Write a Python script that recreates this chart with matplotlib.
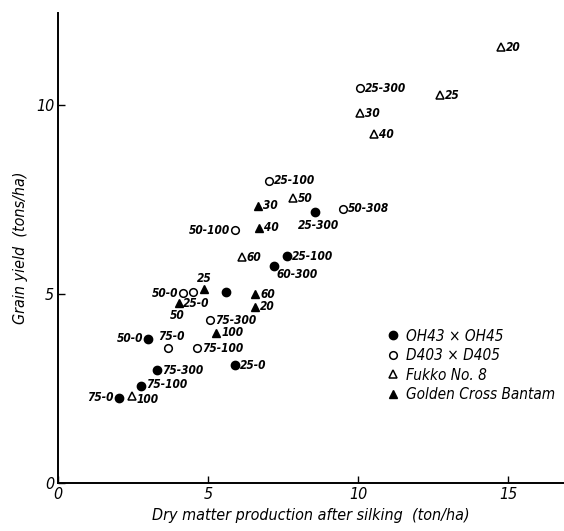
import matplotlib
matplotlib.use("Agg")
import matplotlib.pyplot as plt

# OH43 x OH45 (filled circles)
oh_x = [2.02, 2.77, 3.29, 3.00, 5.89, 5.58, 7.18, 7.62, 8.56]
oh_y = [2.26, 2.57, 2.98, 3.82, 3.11, 5.05, 5.75, 6.00, 7.16]
oh_lab = ["75-0", "75-100", "75-300", "50-0", "25-0", "", "60-300", "25-100", "25-300"]

# D403 x D405 (open circles)
d4_x = [3.66, 4.16, 4.50, 5.06, 4.63, 7.01, 9.50, 5.89, 10.07]
d4_y = [3.56, 5.02, 5.04, 4.31, 3.57, 8.00, 7.25, 6.68, 10.44]
d4_lab = ["75-0", "50-0", "25-0", "75-300", "75-100", "25-100", "50-308", "50-100", "25-300"]

# Fukko No.8 (open triangles)
fk_x = [2.46, 6.12, 7.82, 10.53, 10.06, 12.72, 14.76]
fk_y = [2.30, 5.97, 7.53, 9.22, 9.78, 10.25, 11.52]
fk_lab = ["100", "60", "50", "40", "30", "25", "20"]

# Golden Cross Bantam (filled triangles)
gc_x = [4.87, 4.02, 6.57, 6.57, 5.26, 6.67, 6.68]
gc_y = [5.12, 4.75, 4.99, 4.66, 3.98, 7.33, 6.75]
gc_lab = ["25", "50", "60", "20", "100", "30", "40"]

# label placement, pixel offsets (dx, dy, ha)
R = (5, 0, "left")
L = (-5, 0, "right")
oh_off = [L, (5, 1, "left"), R, L, R, R, (3, -9, "left"), R, (3, -13, "center")]
d4_off = [(3, 12, "center"), L, (3, -11, "center"), R, R, R, R, L, R]
fk_off = [(4, -3, "left"), R, R, R, R, R, R]
gc_off = [(0, 11, "center"), (-2, -12, "center"), R, R, R, R, R]

FONT = ["DejaVu Sans"]

fig = plt.figure(figsize=(5.64, 5.31), dpi=100)
ax = fig.add_axes([58.3 / 564, 48 / 531, (564 - 58.3) / 564, 470 / 531])

ms = 6
ax.plot(oh_x, oh_y, "o", color="black", ms=ms, ls="none", label="OH43 × OH45")
ax.plot(d4_x, d4_y, "o", mfc="white", mec="black", mew=1.1, ms=ms - 0.5, ls="none", label="D403 × D405")
ax.plot(fk_x, fk_y, "^", mfc="white", mec="black", mew=1.1, ms=ms, ls="none", label="Fukko No. 8")
ax.plot(gc_x, gc_y, "^", color="black", ms=ms, ls="none", label="Golden Cross Bantam")

for xs, ys, labs, offs in [(oh_x, oh_y, oh_lab, oh_off), (d4_x, d4_y, d4_lab, d4_off),
                           (fk_x, fk_y, fk_lab, fk_off), (gc_x, gc_y, gc_lab, gc_off)]:
    for x, y, t, (dx, dy, ha) in zip(xs, ys, labs, offs):
        if not t:
            continue
        ax.annotate(t, (x, y), xytext=(dx * 0.72, dy * 0.72), textcoords="offset points",
                    ha=ha, va="center", fontsize=8.5, style="italic", weight="bold",
                    family=FONT, stretch="condensed")

ax.set_xlim(0, 16.86)
ax.set_ylim(0, 12.43)
ax.spines["top"].set_visible(False)
ax.spines["right"].set_visible(False)
for s in ("left", "bottom"):
    ax.spines[s].set_linewidth(1.4)

ax.set_xticks([0, 5, 10, 15])
ax.set_yticks([0, 5, 10])
ax.tick_params(direction="in", length=5, width=1, labelsize=11.5, pad=3)
for lab in ax.get_xticklabels() + ax.get_yticklabels():
    lab.set_style("italic")
    lab.set_family(FONT)
    lab.set_stretch("condensed")

ax.set_xlabel("Dry matter production after silking  (ton/ha)", fontsize=11.5, style="italic",
              family=FONT, stretch="condensed", labelpad=4)
ax.set_ylabel("Grain yield  (tons/ha)", fontsize=11.5, style="italic", family=FONT,
              stretch="condensed", labelpad=6)

leg = ax.legend(loc="lower right", bbox_to_anchor=(1.0, 0.152), frameon=False, handletextpad=0.3,
                handlelength=1.0, labelspacing=0.3, borderaxespad=0.2,
                prop={"family": FONT, "style": "italic", "size": 11, "stretch": "condensed"})

fig.savefig("out.png", dpi=100)
